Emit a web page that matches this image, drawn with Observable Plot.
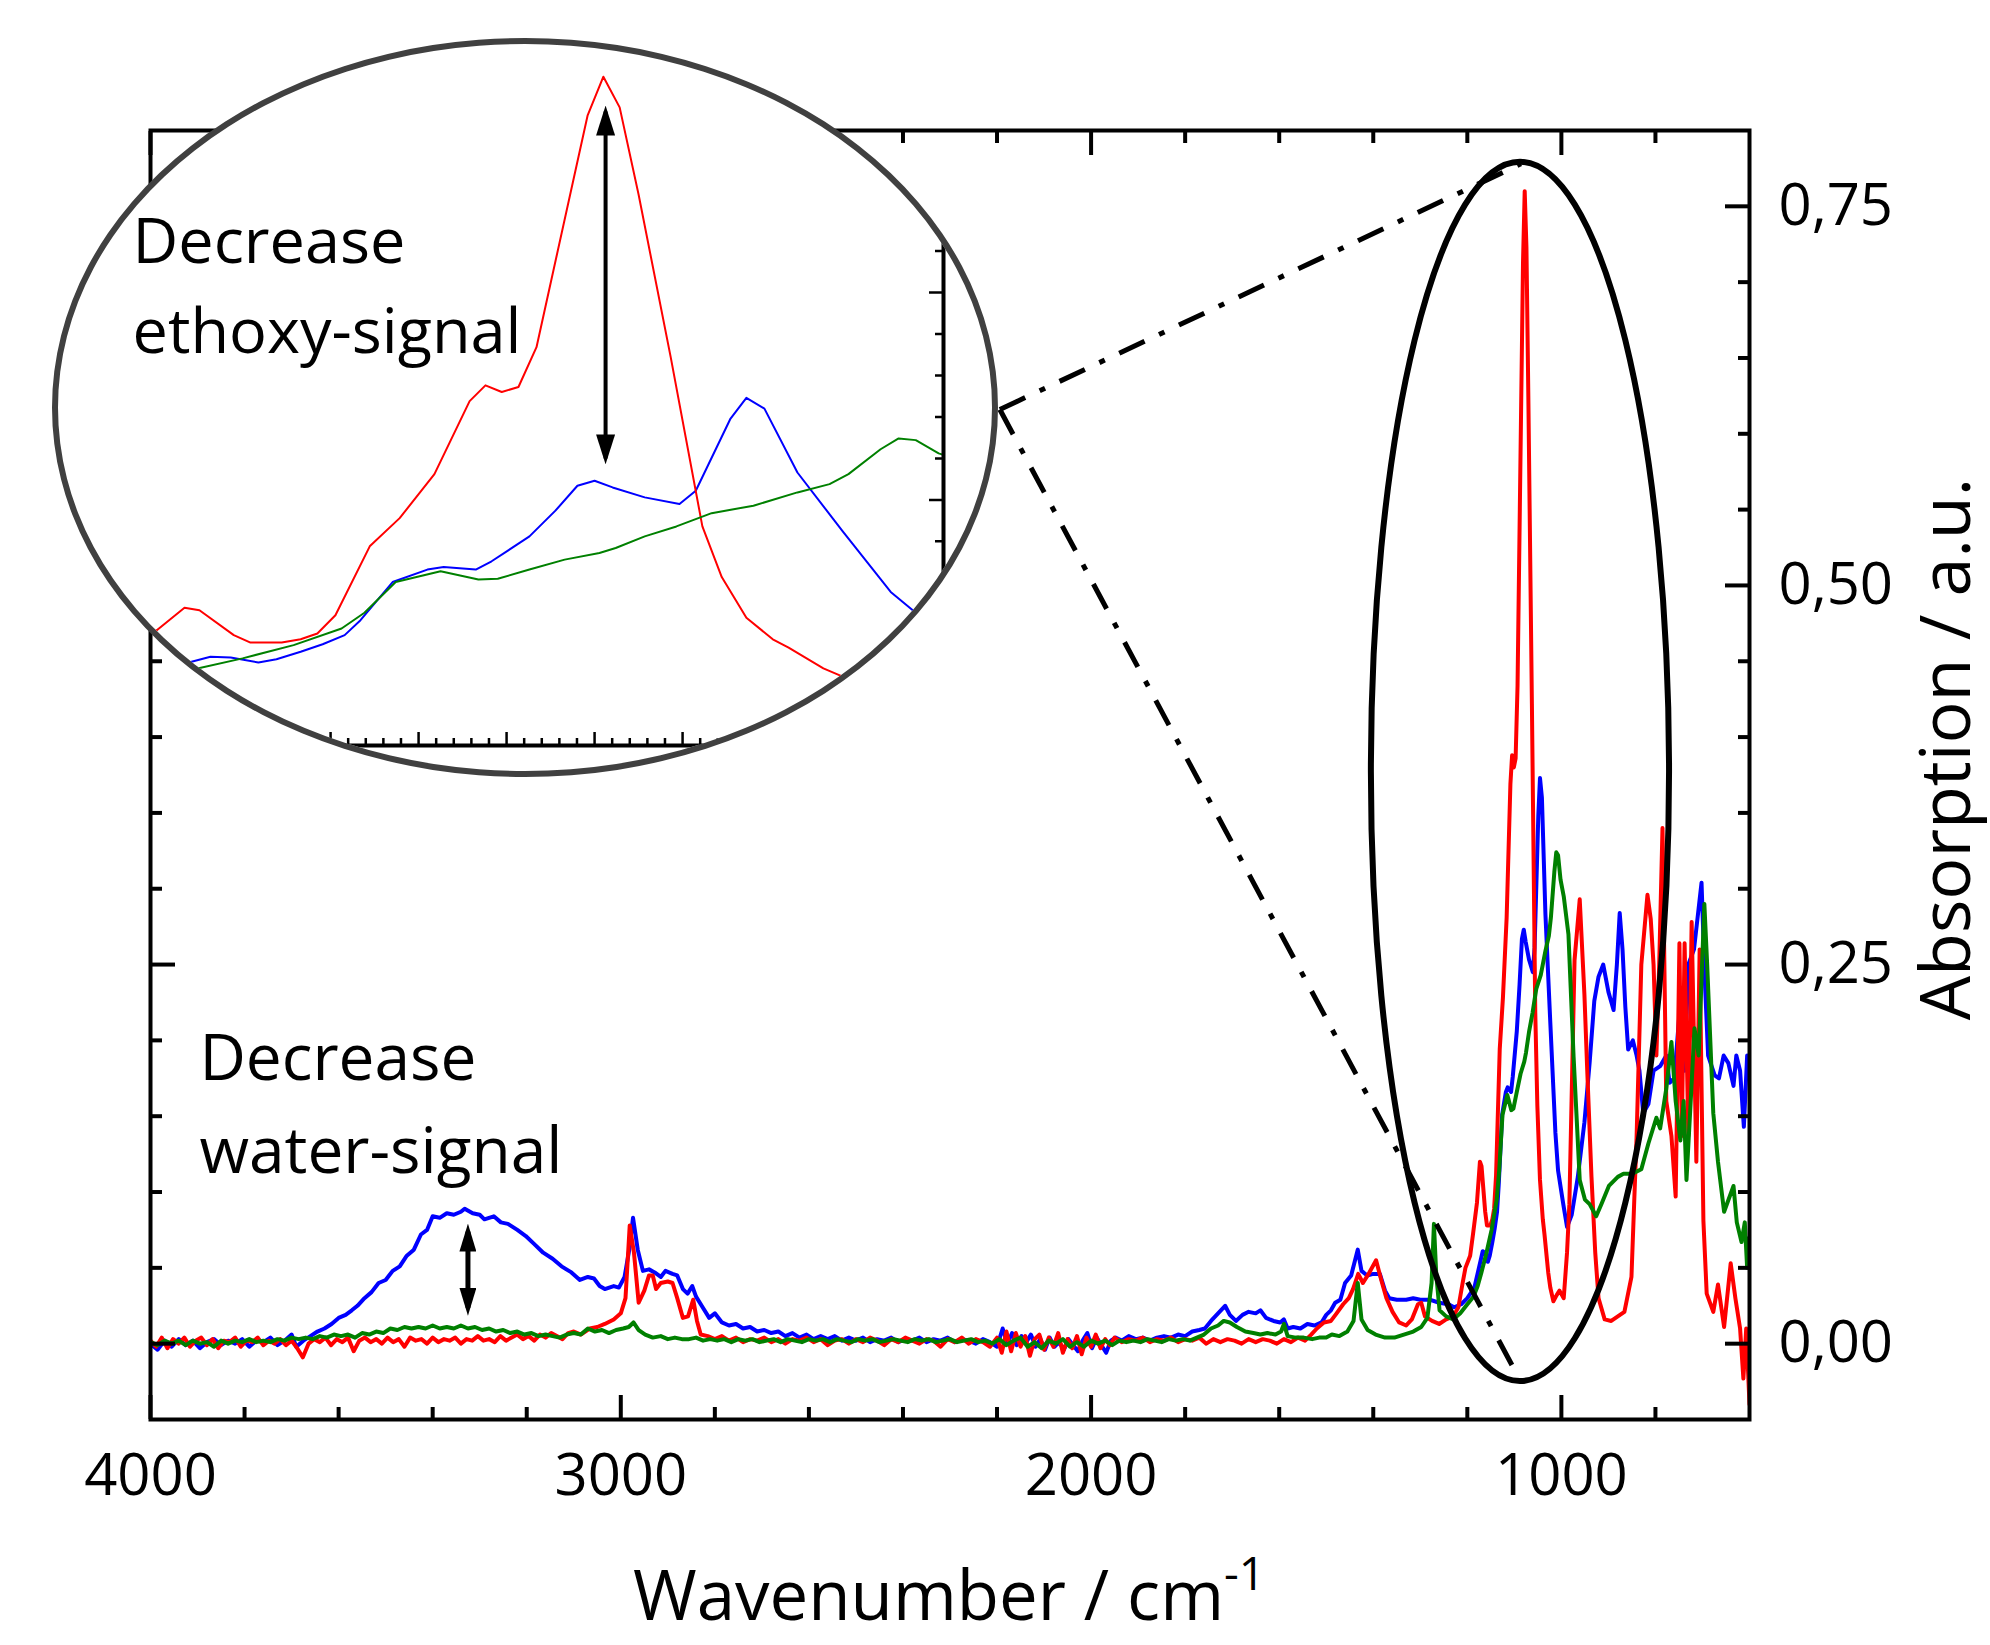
<!DOCTYPE html>
<html>
<head>
<meta charset="utf-8">
<script src="https://cdn.jsdelivr.net/npm/d3@7"></script>
<script src="https://cdn.jsdelivr.net/npm/@observablehq/plot@0.6"></script>
<style>
html,body{margin:0;padding:0;background:#fff;}
#wrap{position:relative;width:1990px;height:1645px;overflow:hidden;font-family:"Open Sans",sans-serif;}
#wrap svg{max-width:none !important;}
#inset{position:absolute;left:52px;top:38px;width:946px;height:739px;box-sizing:border-box;border:6px solid #404040;border-radius:50%;overflow:hidden;background:#fff;}
#inset svg{position:absolute;left:-6px;top:-6px;width:946px;height:739px;max-width:none !important;}
</style>
</head>
<body>
<div id="wrap"><div id="inset"></div></div>
<script>
// ---------- axes / ticks ----------
const xDomain = [4000, 600];
const yDomain = [-0.05, 0.80];
const xMajorTicks = [4000, 3000, 2000, 1000];
const xMinorTicks = [3800, 3600, 3400, 3200, 2800, 2600, 2400, 2200, 1800, 1600, 1400, 1200, 800];
const yMajorTicks = [0, 0.25, 0.5, 0.75];
const yMinorTicks = [0.05, 0.1, 0.15, 0.2, 0.3, 0.35, 0.4, 0.45, 0.55, 0.6, 0.65, 0.7];

const insetXDomain = [1203.2, 1000.7];
const insetYDomain = [-0.046, 0.806];
const insetXMajorTicks = [1180, 1160, 1140, 1120, 1100, 1080, 1060, 1040, 1020];
const insetXMinorTicks = d3.range(1004, 1200, 4).filter(v => v % 20 !== 0);
const insetYMajorTicks = [0, 0.25, 0.5, 0.75];
const insetYMinorTicks = [0.05, 0.1, 0.15, 0.2, 0.3, 0.35, 0.4, 0.45, 0.55, 0.6, 0.65, 0.7];

// ---------- spectra [wavenumber, absorption] ----------
const blueHigh = [
[4000,0.000],[3985,-0.004],[3970,0.002],[3955,-0.002],[3940,0.003],[3925,-0.001],[3910,0.002],[3895,-0.003],[3880,0.001],[3865,0.003],
[3850,-0.001],[3835,0.002],[3820,0.000],[3805,0.003],[3790,-0.002],[3775,0.002],[3760,0.001],[3745,0.004],[3730,-0.001],[3715,0.002],
[3700,0.006],[3690,-0.002],[3675,0.002],[3660,0.005],[3645,0.008],[3630,0.010],[3615,0.013],[3600,0.017],[3585,0.019],[3572,0.022],
[3560,0.025],[3545,0.030],[3530,0.034],[3515,0.040],[3500,0.042],[3485,0.048],[3470,0.051],[3455,0.058],[3440,0.062],[3425,0.072],
[3412,0.075],[3400,0.084],[3385,0.083],[3370,0.086],[3355,0.085],[3340,0.087],[3332,0.089],[3315,0.086],[3300,0.085],[3290,0.082],
[3270,0.084],[3255,0.080],[3240,0.079],[3220,0.075],[3202,0.071],[3185,0.066],[3165,0.060],[3145,0.056],[3126,0.051],[3105,0.047],
[3087,0.042],[3070,0.044],[3057,0.043],[3045,0.038],[3034,0.036],[3015,0.038],[3004,0.037],[2992,0.044],[2982,0.062],[2974,0.083],
[2964,0.062],[2953,0.048],[2940,0.049],[2928,0.047],[2915,0.044],[2905,0.048],[2890,0.046],[2880,0.045],[2868,0.036],[2858,0.033],
[2848,0.038],[2840,0.031],[2826,0.024],[2812,0.017],[2800,0.020],[2785,0.014],[2770,0.012],[2755,0.013],[2740,0.010],[2725,0.011],
[2710,0.008],[2695,0.009],[2680,0.007],[2665,0.008],[2650,0.005],[2635,0.007],[2620,0.004],[2605,0.006],[2590,0.003],[2575,0.005],
[2560,0.003],[2545,0.005],[2530,0.002],[2515,0.004],[2500,0.002],[2485,0.004],[2470,0.001],[2455,0.003],[2440,0.002],[2425,0.004],
[2410,0.001],[2395,0.003],[2380,0.002],[2365,0.004],[2350,0.001],[2335,0.003],[2320,0.002],[2305,0.004],[2290,0.001],[2275,0.003],
[2260,0.002],[2245,0.000],[2230,0.003],[2215,0.001],[2200,-0.002],[2188,0.010],[2178,0.000],[2168,0.007],[2158,-0.001],[2148,0.005],
[2138,0.001],[2128,0.006],[2118,-0.002],[2108,0.003],[2098,-0.004],[2088,0.004],[2078,-0.002],[2068,0.001],[2058,-0.004],[2048,0.003],
[2038,-0.001],[2028,-0.005],[2018,0.002],[2008,0.007],[1998,-0.003],[1988,0.004],[1978,-0.001],[1968,-0.006],[1958,0.002],[1948,0.004],
[1935,0.002],[1920,0.005],[1905,0.003],[1890,0.004],[1875,0.002],[1860,0.004],[1845,0.005],[1830,0.004],[1815,0.006],[1800,0.005],
[1785,0.008],[1770,0.009],[1758,0.010],[1745,0.015],[1730,0.020],[1715,0.025],[1705,0.019],[1692,0.015],[1678,0.019],[1665,0.021],
[1650,0.020],[1640,0.022],[1628,0.017],[1612,0.015],[1598,0.014],[1590,0.016],[1582,0.010],[1570,0.011],[1555,0.010],[1540,0.013],
[1525,0.012],[1510,0.014],[1500,0.019],[1490,0.022],[1481,0.027],[1470,0.029],[1460,0.040],[1447,0.045],[1433,0.062],[1425,0.048],
[1413,0.045],[1400,0.046],[1386,0.046],[1375,0.035],[1366,0.030],[1350,0.029],[1330,0.029],[1315,0.030],[1300,0.029],[1280,0.029],
[1260,0.027],[1240,0.026],[1228,0.024],[1213,0.026],[1200,0.030],[1185,0.037]
];
const bluePeak = [
[1171.6,0.055],[1167.3,0.061],[1162.7,0.060],[1156.4,0.054],[1152.3,0.058],[1146.8,0.067],[1141.8,0.076],[1136.8,0.087],[1133.2,0.105],
[1125.9,0.151],[1118.0,0.166],[1114.3,0.169],[1107.0,0.166],[1103.4,0.176],[1094.8,0.206],[1088.9,0.237],[1083.9,0.267],[1080.0,0.273],
[1075.9,0.265],[1068.6,0.253],[1060.7,0.245],[1057.0,0.261],[1049.1,0.348],[1045.5,0.373],[1041.4,0.360],[1033.9,0.283],[1023.6,0.212],
[1012.7,0.139],[1007.0,0.114]
];
const blueLow = [
[996,0.092],[988,0.077],[978,0.085],[965,0.110],[951,0.146],[940,0.185],[930,0.226],[921,0.242],[911,0.250],[900,0.232],
[889,0.220],[882,0.250],[876,0.284],[870,0.260],[864,0.222],[858,0.194],[848,0.200],[840,0.190],[834,0.180],[826,0.152],
[815,0.158],[804,0.180],[790,0.183],[777,0.190],[770,0.172],[760,0.175],[745,0.233],[738,0.180],[730,0.250],[718,0.260],
[702,0.304],[695,0.240],[688,0.190],[674,0.177],[665,0.175],[655,0.190],[645,0.185],[634,0.170],[628,0.190],[620,0.180],
[612,0.143],[605,0.190],[600,0.188]
];

const redHigh = [
[4000,0.002],[3988,-0.002],[3976,0.004],[3964,-0.003],[3952,0.003],[3940,0.000],[3928,0.004],[3916,-0.002],[3904,0.002],[3892,0.004],
[3880,-0.001],[3868,0.003],[3856,-0.003],[3844,0.002],[3832,0.001],[3820,0.004],[3808,-0.002],[3796,0.002],[3784,0.001],[3772,0.004],
[3760,-0.001],[3748,0.002],[3736,0.000],[3724,0.003],[3712,-0.001],[3700,0.002],[3688,-0.003],[3676,-0.009],[3664,0.000],[3652,0.003],
[3640,0.001],[3628,0.004],[3616,-0.001],[3604,0.003],[3592,0.001],[3580,0.004],[3568,-0.005],[3556,0.002],[3544,0.004],[3532,0.001],
[3520,0.003],[3508,0.000],[3496,0.004],[3484,0.001],[3472,0.003],[3460,-0.002],[3448,0.004],[3436,0.002],[3424,0.003],[3412,0.000],
[3400,0.004],[3388,0.001],[3376,0.003],[3364,0.002],[3352,0.004],[3340,0.000],[3328,0.003],[3316,0.002],[3304,0.005],[3292,0.002],
[3280,0.003],[3268,0.001],[3256,0.005],[3244,0.002],[3232,0.004],[3220,0.006],[3208,0.003],[3196,0.005],[3184,0.002],[3172,0.006],
[3160,0.004],[3148,0.007],[3136,0.005],[3124,0.003],[3112,0.007],[3100,0.008],[3085,0.006],[3066,0.010],[3050,0.011],[3034,0.013],
[3015,0.016],[3000,0.020],[2990,0.030],[2981,0.078],[2972,0.060],[2962,0.027],[2950,0.035],[2940,0.045],[2932,0.045],[2925,0.036],
[2915,0.040],[2900,0.041],[2890,0.040],[2880,0.030],[2868,0.017],[2857,0.018],[2846,0.029],[2838,0.015],[2830,0.006],[2815,0.005],
[2800,0.003],[2785,0.005],[2770,0.002],[2755,0.004],[2740,0.001],[2725,0.003],[2710,0.002],[2695,0.004],[2680,0.001],[2665,0.003],
[2650,0.000],[2635,0.003],[2620,0.002],[2605,0.004],[2590,0.001],[2575,0.003],[2560,-0.001],[2545,0.002],[2530,0.003],[2515,0.000],
[2500,0.003],[2485,0.001],[2470,0.004],[2455,0.002],[2440,-0.001],[2425,0.003],[2410,0.001],[2395,0.004],[2380,0.002],[2365,0.000],
[2350,0.003],[2335,0.002],[2320,-0.002],[2305,0.003],[2290,0.001],[2275,0.004],[2260,0.000],[2245,0.003],[2230,0.001],[2215,-0.002],
[2200,0.004],[2190,-0.006],[2180,0.008],[2170,-0.005],[2160,0.007],[2150,-0.002],[2140,0.005],[2130,-0.008],[2120,0.003],[2110,0.006],
[2100,-0.004],[2090,0.004],[2080,-0.002],[2070,0.007],[2060,-0.006],[2050,0.003],[2040,-0.003],[2030,0.005],[2020,-0.007],[2010,0.004],
[2000,-0.002],[1990,0.006],[1980,-0.003],[1970,0.003],[1960,-0.001],[1950,0.004],[1935,0.001],[1920,0.003],[1905,0.002],[1890,0.004],
[1875,0.001],[1860,0.003],[1845,0.002],[1830,0.004],[1815,0.001],[1800,0.003],[1785,0.002],[1770,0.004],[1755,0.000],[1740,0.003],
[1725,0.001],[1710,0.003],[1695,0.002],[1680,0.000],[1665,0.003],[1650,0.001],[1635,0.003],[1620,0.002],[1605,0.000],[1590,0.003],
[1575,0.001],[1560,0.004],[1545,0.002],[1532,0.006],[1520,0.010],[1505,0.014],[1490,0.015],[1478,0.020],[1464,0.026],[1452,0.030],
[1443,0.036],[1432,0.046],[1422,0.040],[1410,0.046],[1394,0.055],[1383,0.042],[1372,0.030],[1359,0.021],[1345,0.014],[1330,0.012],
[1318,0.016],[1305,0.026],[1298,0.027],[1290,0.018],[1275,0.015],[1260,0.013],[1245,0.016],[1230,0.018],[1219,0.024],[1210,0.040],
[1204,0.050],[1194,0.058],[1188,0.072]
];
const redPeak = [
[1179.5,0.093],[1173.2,0.120],[1169.8,0.117],[1162.0,0.087],[1158.2,0.078],[1151.1,0.078],[1146.8,0.082],[1143.0,0.089],[1138.9,0.111],
[1131.1,0.194],[1124.3,0.228],[1116.4,0.281],[1108.4,0.369],[1104.8,0.388],[1101.1,0.380],[1097.3,0.386],[1093.2,0.434],[1081.6,0.713],
[1078.0,0.760],[1074.3,0.723],[1070.0,0.618],[1062.7,0.422],[1055.5,0.218],[1051.1,0.157],[1045.5,0.108],[1039.5,0.082],[1035.9,0.072],
[1028.0,0.047],[1023.6,0.037]
];
const redLow = [
[1017,0.028],[1010,0.032],[1004,0.035],[995,0.030],[988,0.060],[983,0.092],[972,0.253],[961,0.293],[951,0.230],[945,0.180],
[936,0.110],[928,0.060],[921,0.030],[908,0.016],[894,0.015],[880,0.018],[866,0.021],[851,0.044],[840,0.137],[830,0.250],
[817,0.296],[810,0.280],[804,0.250],[798,0.190],[792,0.250],[785,0.340],[777,0.160],[766,0.137],[757,0.097],[749,0.264],
[744,0.137],[738,0.264],[730,0.137],[723,0.278],[713,0.120],[706,0.260],[698,0.081],[691,0.033],[677,0.021],[667,0.039],
[654,0.011],[640,0.053],[630,0.030],[620,0.010],[613,-0.023],[607,0.010],[600,-0.040]
];

const greenHigh = [
[4000,0.001],[3985,-0.001],[3970,0.002],[3955,0.000],[3940,0.002],[3925,-0.001],[3910,0.002],[3895,0.000],[3880,0.001],[3865,-0.002],
[3850,0.002],[3835,0.000],[3820,0.002],[3805,0.001],[3790,0.003],[3775,0.001],[3760,0.002],[3745,0.001],[3730,0.003],[3715,0.002],
[3700,0.004],[3685,0.003],[3670,0.004],[3655,0.003],[3640,0.005],[3625,0.004],[3610,0.006],[3595,0.005],[3580,0.006],[3565,0.004],
[3550,0.007],[3535,0.006],[3520,0.008],[3505,0.007],[3490,0.010],[3475,0.009],[3460,0.011],[3445,0.010],[3430,0.011],[3415,0.010],
[3400,0.012],[3385,0.010],[3370,0.011],[3355,0.010],[3340,0.012],[3325,0.010],[3310,0.011],[3295,0.009],[3280,0.010],[3265,0.008],
[3250,0.009],[3235,0.007],[3220,0.008],[3205,0.006],[3190,0.007],[3175,0.005],[3160,0.006],[3145,0.005],[3130,0.004],[3115,0.006],
[3100,0.007],[3085,0.006],[3070,0.010],[3055,0.008],[3040,0.009],[3025,0.007],[3010,0.009],[2995,0.010],[2983,0.011],[2973,0.014],
[2962,0.009],[2948,0.006],[2932,0.004],[2915,0.005],[2900,0.003],[2885,0.004],[2870,0.003],[2855,0.003],[2840,0.004],[2825,0.002],
[2810,0.003],[2795,0.002],[2780,0.003],[2765,0.001],[2750,0.003],[2735,0.002],[2720,0.003],[2705,0.001],[2690,0.002],[2675,0.003],
[2660,0.001],[2645,0.003],[2630,0.002],[2615,0.001],[2600,0.003],[2585,0.002],[2570,0.003],[2555,0.001],[2540,0.003],[2525,0.002],
[2510,0.001],[2495,0.003],[2480,0.002],[2465,0.003],[2450,0.001],[2435,0.002],[2420,0.003],[2405,0.002],[2390,0.001],[2375,0.003],
[2360,0.002],[2345,0.003],[2330,0.001],[2315,0.002],[2300,0.003],[2285,0.001],[2270,0.002],[2255,0.003],[2240,0.001],[2225,0.002],
[2210,0.000],[2195,0.003],[2180,-0.001],[2165,0.002],[2150,0.004],[2135,-0.002],[2120,0.001],[2105,-0.003],[2090,0.002],[2075,0.000],
[2060,0.003],[2045,-0.002],[2030,0.001],[2015,-0.002],[2000,0.002],[1985,0.000],[1970,0.002],[1955,-0.001],[1940,0.002],[1925,0.001],
[1910,0.002],[1895,0.001],[1880,0.003],[1865,0.002],[1850,0.001],[1835,0.003],[1820,0.002],[1805,0.003],[1790,0.002],[1775,0.004],
[1760,0.006],[1745,0.010],[1730,0.012],[1718,0.015],[1705,0.014],[1690,0.011],[1672,0.008],[1655,0.007],[1640,0.006],[1625,0.007],
[1608,0.006],[1596,0.008],[1590,0.013],[1582,0.005],[1565,0.004],[1548,0.004],[1530,0.003],[1515,0.004],[1500,0.004],[1488,0.006],
[1472,0.005],[1455,0.008],[1442,0.015],[1433,0.040],[1425,0.016],[1412,0.009],[1395,0.006],[1375,0.004],[1355,0.004],[1335,0.006],
[1315,0.008],[1298,0.011],[1285,0.017],[1276,0.040],[1271,0.079],[1266,0.045],[1259,0.022],[1245,0.018],[1230,0.016],[1215,0.020],
[1200,0.026],[1187,0.031],[1178,0.038]
];
const greenPeak = [
[1170.0,0.047],[1160.0,0.059],[1148.4,0.075],[1137.5,0.095],[1132.3,0.114],[1125.2,0.151],[1115.0,0.164],[1106.4,0.154],[1102.0,0.155],
[1094.8,0.166],[1086.8,0.178],[1078.9,0.186],[1075.2,0.192],[1068.6,0.206],[1061.4,0.218],[1053.4,0.234],[1043.9,0.243],[1033.9,0.259],
[1026.6,0.269],[1022.3,0.281],[1015.0,0.311],[1010.9,0.324],[1007.0,0.322],[1001.8,0.306]
];
const greenLow = [
[995,0.295],[985,0.270],[974,0.189],[961,0.108],[950,0.095],[940,0.092],[926,0.084],[915,0.092],[899,0.104],[880,0.110],
[868,0.112],[850,0.112],[830,0.115],[815,0.132],[798,0.149],[790,0.142],[777,0.168],[766,0.199],[757,0.160],[747,0.134],
[740,0.160],[734,0.108],[725,0.160],[717,0.208],[708,0.190],[696,0.290],[690,0.250],[677,0.152],[667,0.120],[654,0.087],
[634,0.104],[627,0.080],[617,0.067],[610,0.080],[605,0.050],[600,0.070]
];

const blueSpectrum = [...blueHigh, ...bluePeak, ...blueLow];
const redSpectrum = [...redHigh, ...redPeak, ...redLow];
const greenSpectrum = [...greenHigh, ...greenPeak, ...greenLow];

// ---------- annotations (data units) ----------
const waterArrow = [{wn: 3325, from: 0.0739, to: 0.0237}];
const waterLabel = [{wn: 3896, abs: 0.1128, text: "Decrease\nwater-signal"}];
const ethoxyArrow = [{wn: 1077.5, from: 0.718, to: 0.300}];
const ethoxyLabel = [{wn: 1185, abs: 0.4265, text: "Decrease\nethoxy-signal"}];
const zoomEllipse = {wn: 1087, abs: 0.377, rWn: 317, rAbs: 0.402};
const connectors = [
  {wn1: 2194, abs1: 0.616, wn2: 1086, abs2: 0.778},
  {wn1: 2194, abs1: 0.616, wn2: 1088, abs2: -0.024}
];

const FONT = "Open Sans";
const series = [
  {data: blueSpectrum, color: "#0000ff"},
  {data: redSpectrum, color: "#ff0000"},
  {data: greenSpectrum, color: "#008000"}
];

// ---------- main plot ----------
const main = Plot.plot({
  width: 1990, height: 1645,
  marginLeft: 150, marginRight: 241, marginTop: 130, marginBottom: 226,
  x: {domain: xDomain},
  y: {domain: yDomain},
  style: {background: "transparent", fontFamily: FONT, color: "black", maxWidth: "none"},
  marks: [
    ...series.map(s => Plot.line(s.data, {x: d => d[0], y: d => d[1], stroke: s.color, strokeWidth: 4, clip: true})),
    Plot.frame({stroke: "black", strokeWidth: 4}),
    Plot.axisX({anchor: "bottom", ticks: xMajorTicks, tickSize: -24, strokeWidth: 4, tickFormat: () => "", label: null}),
    Plot.axisX({anchor: "bottom", ticks: xMinorTicks, tickSize: -12, strokeWidth: 4, tickFormat: () => "", label: null}),
    Plot.axisX({anchor: "top", ticks: xMajorTicks, tickSize: -24, strokeWidth: 4, tickFormat: () => "", label: null}),
    Plot.axisX({anchor: "top", ticks: xMinorTicks, tickSize: -12, strokeWidth: 4, tickFormat: () => "", label: null}),
    Plot.axisX({anchor: "bottom", ticks: xMajorTicks, tickSize: 0, tickPadding: 34, fontSize: 58, fontFamily: FONT, tickFormat: d => String(d), label: null}),
    Plot.axisY({anchor: "right", ticks: yMajorTicks, tickSize: -25, strokeWidth: 4, tickFormat: () => "", label: null}),
    Plot.axisY({anchor: "right", ticks: yMinorTicks, tickSize: -12, strokeWidth: 4, tickFormat: () => "", label: null}),
    Plot.axisY({anchor: "left", ticks: yMajorTicks, tickSize: -25, strokeWidth: 4, tickFormat: () => "", label: null}),
    Plot.axisY({anchor: "left", ticks: yMinorTicks, tickSize: -12, strokeWidth: 4, tickFormat: () => "", label: null}),
    Plot.axisY({anchor: "right", ticks: yMajorTicks, tickSize: 0, tickPadding: 29, fontSize: 58, fontFamily: FONT, tickFormat: d => d.toFixed(2).replace(".", ","), label: null}),
    Plot.link(connectors, {x1: "wn1", y1: "abs1", x2: "wn2", y2: "abs2", stroke: "black", strokeWidth: 5, strokeDasharray: "28 16 6 16"}),
    Plot.link(waterArrow, {x1: "wn", x2: "wn", y1: "from", y2: "to", stroke: "black", strokeWidth: 5, ariaDescription: "double-arrow"}),
    Plot.text(waterLabel, {x: "wn", y: "abs", text: "text", textAnchor: "start", lineAnchor: "bottom", lineHeight: 1.44, fontSize: 64, fontFamily: FONT, fill: "black"})
  ]
});

function addDoubleArrow(svg, len, half, back) {
  const id = "head" + Math.random().toString(36).slice(2, 8);
  const defs = d3.select(svg).insert("defs", ":first-child");
  defs.append("marker").attr("id", id)
    .attr("markerUnits", "userSpaceOnUse")
    .attr("viewBox", `0 ${-half} ${len} ${2 * half}`)
    .attr("markerWidth", len).attr("markerHeight", 2 * half)
    .attr("refX", len - back).attr("refY", 0)
    .attr("orient", "auto-start-reverse")
    .append("path").attr("d", `M0,${-half}L${len},0L0,${half}Z`).attr("fill", "black");
  let paths = d3.select(svg).selectAll('[aria-description="double-arrow"] path, path[aria-description="double-arrow"]');
  if (paths.empty()) {
    const groups = svg.querySelectorAll('g[aria-label="link"]');
    paths = d3.select(groups[groups.length - 1]).selectAll("path");
  }
  paths.attr("marker-start", `url(#${id})`).attr("marker-end", `url(#${id})`);
}
addDoubleArrow(main, 28, 8.5, 8);

// big ellipse drawn through the main scales, plus axis titles
{
  const sx = main.scale("x"), sy = main.scale("y");
  const cx = sx.apply(zoomEllipse.wn), cy = sy.apply(zoomEllipse.abs);
  const rx = Math.abs(sx.apply(zoomEllipse.wn - zoomEllipse.rWn) - cx);
  const ry = Math.abs(sy.apply(zoomEllipse.abs + zoomEllipse.rAbs) - cy);
  d3.select(main).append("ellipse")
    .attr("cx", cx).attr("cy", cy).attr("rx", rx).attr("ry", ry)
    .attr("fill", "none").attr("stroke", "black").attr("stroke-width", 6);
  const t = d3.select(main).append("text")
    .attr("x", 633).attr("y", 1620)
    .attr("text-anchor", "start").style("text-anchor", "start")
    .style("font-family", FONT).style("font-size", "69px").attr("fill", "black");
  t.append("tspan").text("Wavenumber / cm");
  t.append("tspan").attr("dy", -30).style("font-size", "46px").text("-1");
  d3.select(main).append("text")
    .attr("transform", "translate(1970,749) rotate(-90)")
    .attr("text-anchor", "middle").style("text-anchor", "middle")
    .style("font-family", FONT).style("font-size", "70px").attr("fill", "black")
    .text("Absorption / a.u.");
}
document.getElementById("wrap").insertBefore(main, document.getElementById("inset"));

// ---------- inset (magnified ethoxy region) ----------
const inset = Plot.plot({
  width: 946, height: 739,
  marginLeft: 0, marginTop: 0, marginRight: 55, marginBottom: 32,
  x: {domain: insetXDomain},
  y: {domain: insetYDomain},
  style: {background: "transparent", fontFamily: FONT, color: "black", maxWidth: "none"},
  marks: [
    ...series.map(s => Plot.line(s.data, {x: d => d[0], y: d => d[1], stroke: s.color, strokeWidth: 2, clip: true})),
    Plot.ruleX([insetXDomain[1]], {stroke: "black", strokeWidth: 4}),
    Plot.ruleY([insetYDomain[0]], {stroke: "black", strokeWidth: 4}),
    Plot.axisY({anchor: "right", ticks: insetYMajorTicks, tickSize: -15, strokeWidth: 2.5, tickFormat: () => "", label: null}),
    Plot.axisY({anchor: "right", ticks: insetYMinorTicks, tickSize: -9, strokeWidth: 2.5, tickFormat: () => "", label: null}),
    Plot.axisX({anchor: "bottom", ticks: insetXMajorTicks, tickSize: -13, strokeWidth: 2.5, tickFormat: () => "", label: null}),
    Plot.axisX({anchor: "bottom", ticks: insetXMinorTicks, tickSize: -7, strokeWidth: 2.5, tickFormat: () => "", label: null}),
    Plot.link(ethoxyArrow, {x1: "wn", x2: "wn", y1: "from", y2: "to", stroke: "black", strokeWidth: 4, ariaDescription: "double-arrow"}),
    Plot.text(ethoxyLabel, {x: "wn", y: "abs", text: "text", textAnchor: "start", lineAnchor: "bottom", lineHeight: 1.44, fontSize: 63, fontFamily: FONT, fill: "black"})
  ]
});
addDoubleArrow(inset, 30, 9.5, 6);
document.getElementById("inset").appendChild(inset);
</script>
</body>
</html>
